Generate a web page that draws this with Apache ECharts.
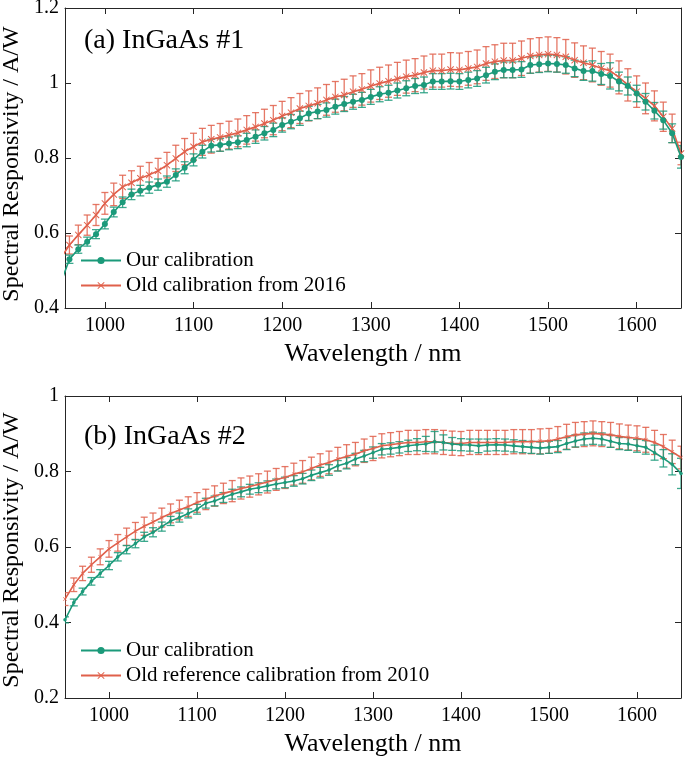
<!DOCTYPE html>
<html><head><meta charset="utf-8">
<script src="https://cdn.jsdelivr.net/npm/echarts@6/dist/echarts.min.js"></script>
<style>html,body{margin:0;padding:0;background:#fff}#c{width:685px;height:764px}</style>
</head><body><div id="c"></div>
<script>
// ---------- DATA ----------
const wavelengths = [950,960,970,980,990,1000,1010,1020,1030,1040,1050,1060,1070,1080,1090,1100,1110,1120,1130,1140,1150,1160,1170,1180,1190,1200,1210,1220,1230,1240,1250,1260,1270,1280,1290,1300,1310,1320,1330,1340,1350,1360,1370,1380,1390,1400,1410,1420,1430,1440,1450,1460,1470,1480,1490,1500,1510,1520,1530,1540,1550,1560,1570,1580,1590,1600,1610,1620,1630,1640,1650];

// (a) InGaAs #1
const ourCalA = [0.465,0.530,0.557,0.577,0.597,0.624,0.656,0.682,0.703,0.713,0.721,0.729,0.737,0.755,0.774,0.795,0.817,0.833,0.835,0.839,0.842,0.848,0.857,0.866,0.875,0.888,0.897,0.906,0.919,0.924,0.928,0.937,0.944,0.950,0.955,0.963,0.970,0.974,0.980,0.986,0.992,0.995,1.004,1.004,1.005,1.004,1.008,1.012,1.021,1.030,1.035,1.035,1.036,1.048,1.050,1.052,1.051,1.048,1.039,1.032,1.032,1.024,1.019,1.004,0.992,0.972,0.950,0.926,0.901,0.866,0.803];
const ourErrA = [0.010,0.011,0.011,0.012,0.012,0.013,0.013,0.014,0.014,0.014,0.015,0.015,0.015,0.016,0.016,0.016,0.017,0.017,0.017,0.017,0.017,0.018,0.018,0.018,0.018,0.019,0.019,0.019,0.019,0.019,0.019,0.020,0.020,0.020,0.020,0.020,0.020,0.020,0.020,0.020,0.020,0.021,0.021,0.021,0.021,0.021,0.021,0.021,0.021,0.021,0.021,0.021,0.021,0.022,0.022,0.022,0.022,0.022,0.022,0.025,0.027,0.028,0.035,0.025,0.024,0.022,0.022,0.022,0.024,0.025,0.030];
const oldCalA = [0.532,0.568,0.595,0.621,0.648,0.679,0.703,0.723,0.734,0.746,0.755,0.766,0.781,0.799,0.817,0.830,0.843,0.850,0.855,0.861,0.867,0.875,0.883,0.892,0.901,0.912,0.921,0.932,0.939,0.946,0.955,0.963,0.968,0.977,0.983,0.992,0.999,1.005,1.011,1.017,1.021,1.028,1.033,1.033,1.036,1.035,1.039,1.043,1.052,1.057,1.060,1.060,1.066,1.072,1.075,1.077,1.075,1.070,1.061,1.054,1.048,1.039,1.033,1.015,0.995,0.977,0.959,0.939,0.910,0.879,0.812];
const oldErrA = [0.023,0.024,0.026,0.027,0.028,0.029,0.030,0.031,0.032,0.032,0.033,0.033,0.034,0.035,0.035,0.036,0.036,0.037,0.037,0.037,0.037,0.038,0.038,0.038,0.039,0.039,0.040,0.040,0.040,0.041,0.041,0.041,0.042,0.042,0.042,0.043,0.043,0.043,0.044,0.044,0.044,0.044,0.044,0.044,0.045,0.045,0.045,0.045,0.045,0.045,0.046,0.046,0.046,0.046,0.046,0.046,0.046,0.046,0.046,0.045,0.045,0.045,0.044,0.044,0.043,0.042,0.041,0.040,0.039,0.038,0.030];

// (b) InGaAs #2
const ourCalB = [0.407,0.453,0.482,0.509,0.530,0.551,0.574,0.593,0.609,0.627,0.639,0.654,0.669,0.678,0.689,0.700,0.716,0.722,0.731,0.740,0.746,0.753,0.757,0.762,0.767,0.771,0.775,0.781,0.790,0.797,0.804,0.815,0.822,0.833,0.841,0.850,0.859,0.861,0.864,0.868,0.871,0.873,0.879,0.877,0.873,0.871,0.870,0.868,0.870,0.871,0.870,0.868,0.866,0.864,0.862,0.864,0.866,0.874,0.881,0.886,0.888,0.886,0.880,0.874,0.873,0.868,0.864,0.850,0.835,0.819,0.795];
const ourErrB = [0.008,0.009,0.009,0.010,0.010,0.011,0.011,0.011,0.011,0.012,0.012,0.012,0.012,0.012,0.012,0.013,0.013,0.013,0.013,0.013,0.013,0.013,0.013,0.013,0.013,0.014,0.014,0.014,0.014,0.014,0.014,0.014,0.015,0.015,0.015,0.015,0.015,0.015,0.015,0.015,0.016,0.020,0.027,0.020,0.017,0.016,0.016,0.018,0.016,0.016,0.016,0.016,0.016,0.016,0.016,0.016,0.016,0.016,0.016,0.016,0.016,0.016,0.016,0.016,0.017,0.017,0.018,0.020,0.023,0.028,0.040];
const oldCalB = [0.462,0.500,0.530,0.553,0.574,0.595,0.611,0.627,0.642,0.655,0.666,0.678,0.689,0.698,0.707,0.718,0.726,0.735,0.742,0.748,0.755,0.760,0.766,0.772,0.779,0.784,0.793,0.799,0.808,0.817,0.824,0.833,0.840,0.846,0.855,0.861,0.868,0.871,0.874,0.877,0.877,0.879,0.879,0.877,0.875,0.874,0.877,0.877,0.877,0.877,0.877,0.879,0.879,0.879,0.880,0.881,0.886,0.892,0.897,0.899,0.901,0.899,0.897,0.893,0.890,0.888,0.884,0.877,0.866,0.852,0.837];
const oldErrB = [0.017,0.018,0.019,0.020,0.021,0.022,0.022,0.023,0.023,0.024,0.024,0.025,0.025,0.026,0.026,0.026,0.027,0.027,0.027,0.028,0.028,0.028,0.028,0.029,0.029,0.029,0.029,0.030,0.030,0.030,0.030,0.031,0.031,0.031,0.031,0.032,0.032,0.032,0.032,0.032,0.032,0.032,0.032,0.032,0.032,0.032,0.032,0.032,0.032,0.032,0.032,0.032,0.032,0.032,0.033,0.033,0.033,0.033,0.033,0.033,0.033,0.033,0.033,0.033,0.033,0.033,0.033,0.032,0.032,0.031,0.030];

const titles = ['(a) InGaAs #1', '(b) InGaAs #2'];
const legendA = ['Our calibration', 'Old calibration from 2016'];
const legendB = ['Our calibration ', 'Old reference calibration from 2010'];
const xName = 'Wavelength / nm';
const yName = 'Spectral Responsivity / A/W';

// ---------- STYLE ----------
const FONT = "'Liberation Serif','Times New Roman',serif";
const GREEN = '#1b9a7a';
const RED = '#e0604b';
const AX = '#262626';
const X_PATH = 'path://M1,0L5,4L9,0L10,1L6,5L10,9L9,10L5,6L1,10L0,9L4,5L0,1Z';

function pairs(xs, ys) { return xs.map((x, i) => [x, ys[i]]); }
function triples(xs, ys, es) { return xs.map((x, i) => [x, ys[i], es[i]]); }

function errSeries(axisIdx, data, color, cap) {
  return {
    type: 'custom', xAxisIndex: axisIdx, yAxisIndex: axisIdx, data: data,
    clip: true, silent: true, z: 1, encode: { x: 0, y: 1 },
    renderItem: function (params, api) {
      const x = api.value(0), y = api.value(1), e = api.value(2);
      const p1 = api.coord([x, y + e]), p2 = api.coord([x, y - e]);
      const st = { stroke: color, lineWidth: 1.3, opacity: 0.85 };
      return { type: 'group', children: [
        { type: 'line', shape: { x1: p1[0], y1: p1[1], x2: p2[0], y2: p2[1] }, style: st },
        { type: 'line', shape: { x1: p1[0] - cap, y1: p1[1], x2: p1[0] + cap, y2: p1[1] }, style: st },
        { type: 'line', shape: { x1: p2[0] - cap, y1: p2[1], x2: p2[0] + cap, y2: p2[1] }, style: st }
      ]};
    }
  };
}

function xAx(grid, min, max, mirror) {
  return {
    type: 'value', gridIndex: grid, min: min, max: max, splitNumber: 7,
    position: mirror ? 'top' : 'bottom',
    name: mirror ? '' : xName, nameLocation: 'middle', nameGap: 33,
    nameTextStyle: { fontFamily: FONT, fontSize: 26, color: '#000' },
    axisLine: { show: true, onZero: false, lineStyle: { color: AX, width: 1 } },
    axisTick: { show: true, inside: true, length: 6, lineStyle: { color: AX } },
    axisLabel: { show: !mirror, fontFamily: FONT, fontSize: 20, color: '#000', margin: 8,
      showMinLabel: false, showMaxLabel: false, formatter: v => String(v) },
    splitLine: { show: false }
  };
}
function yAx(grid, min, max, mirror) {
  return {
    type: 'value', gridIndex: grid, min: min, max: max, interval: 0.2,
    position: mirror ? 'right' : 'left',
    axisLine: { show: true, onZero: false, lineStyle: { color: AX, width: 1 } },
    axisTick: { show: true, inside: true, length: 6, lineStyle: { color: AX } },
    axisLabel: { show: !mirror, fontFamily: FONT, fontSize: 20, color: '#000', margin: 6 },
    splitLine: { show: false }
  };
}

function ls(name, gi, data, color, symbol, size, zz) {
  const ai = gi === 0 ? 0 : 2;
  return {
    name: name, type: 'line', xAxisIndex: ai, yAxisIndex: ai, data: data,
    symbol: symbol, symbolSize: size, showSymbol: true, clip: true, z: zz,
    lineStyle: { color: color, width: 1.6 }, itemStyle: { color: color }
  };
}
function es(gi, data, color, cap) {
  return errSeries(gi === 0 ? 0 : 2, data, color, cap);
}

function yTitle(cy) {
  return { type: 'text', x: 12, y: cy, rotation: Math.PI / 2,
    style: { text: yName, font: "24px 'Liberation Serif','Times New Roman',serif", fill: '#000',
      align: 'center', verticalAlign: 'middle' } };
}

const gridBase = { left: 65, right: 4, containLabel: false, outerBoundsMode: 'none' };
const option = {
  animation: false,
  backgroundColor: '#fff',
  grid: [
    Object.assign({ top: 8, height: 300 }, gridBase),
    Object.assign({ top: 396, height: 302 }, gridBase)
  ],
  title: [
    { text: titles[0], left: 79, top: 22, textStyle: { fontFamily: FONT, fontSize: 28, fontWeight: 'normal', color: '#000' } },
    { text: titles[1], left: 79, top: 418, textStyle: { fontFamily: FONT, fontSize: 28, fontWeight: 'normal', color: '#000' } }
  ],
  graphic: [yTitle(164), yTitle(550)],
  legend: [
    { data: legendA, orient: 'vertical', left: 75, top: 245, itemWidth: 40, itemHeight: 9, itemGap: 4,
      textStyle: { fontFamily: FONT, fontSize: 21, color: '#000' }, selectedMode: false },
    { data: legendB, orient: 'vertical', left: 75, top: 635, itemWidth: 40, itemHeight: 9, itemGap: 4,
      textStyle: { fontFamily: FONT, fontSize: 21, color: '#000' }, selectedMode: false }
  ],
  xAxis: [xAx(0, 955, 1650, false), xAx(0, 955, 1650, true), xAx(1, 950, 1650, false), xAx(1, 950, 1650, true)],
  yAxis: [yAx(0, 0.4, 1.2, false), yAx(0, 0.4, 1.2, true), yAx(1, 0.2, 1.0, false), yAx(1, 0.2, 1.0, true)],
  series: [
    es(0, triples(wavelengths, oldCalA, oldErrA), RED, 3.5),
    es(0, triples(wavelengths, ourCalA, ourErrA), GREEN, 4),
    ls(legendA[1], 0, pairs(wavelengths, oldCalA), RED, X_PATH, 7, 3),
    ls(legendA[0], 0, pairs(wavelengths, ourCalA), GREEN, 'circle', 6, 4),
    es(1, triples(wavelengths, oldCalB, oldErrB), RED, 3.5),
    es(1, triples(wavelengths, ourCalB, ourErrB), GREEN, 4),
    ls(legendB[1], 1, pairs(wavelengths, oldCalB), RED, X_PATH, 4, 3),
    ls(legendB[0], 1, pairs(wavelengths, ourCalB), GREEN, 'circle', 3.5, 4)
  ]
};
const chart = echarts.init(document.getElementById('c'), null, { renderer: 'canvas' });
chart.setOption(option);
</script></body></html>
